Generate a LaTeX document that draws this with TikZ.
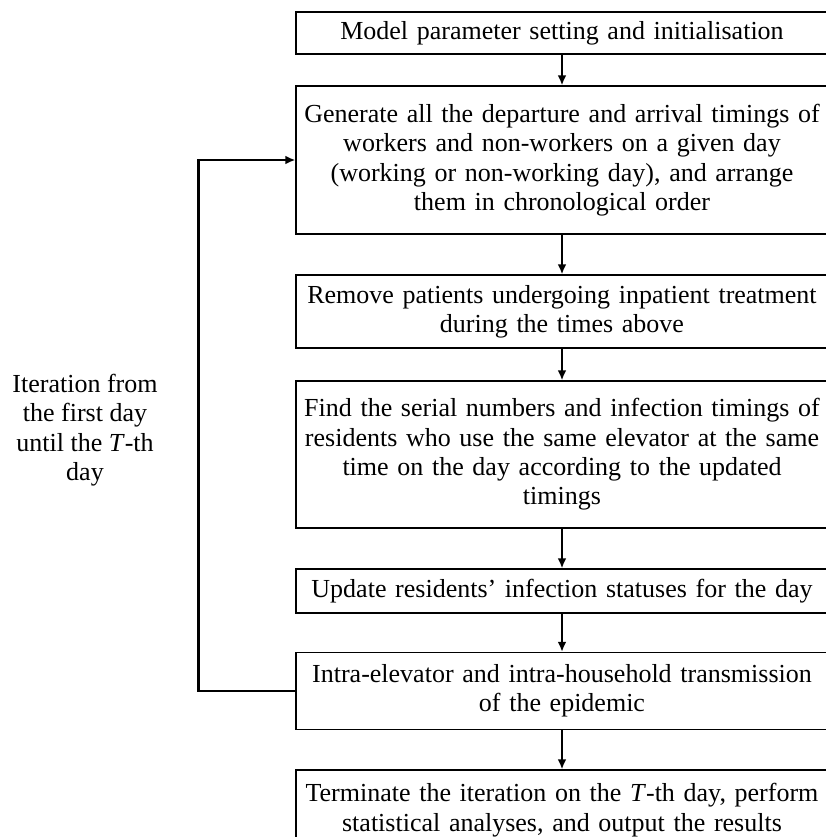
\documentclass[tikz,border=0pt]{standalone}
\usepackage{fontspec}
\setmainfont{Liberation Serif}
\usetikzlibrary{arrows.meta, positioning}

\tikzset{
  stage/.style={draw, line width=0.6pt, rectangle, minimum width=266pt, text width=262pt, inner xsep=2pt, align=center, font=\fontsize{13}{14.7}\selectfont},
  flow/.style={line width=1pt, -{Latex[length=5pt,width=4.4pt]}},
  back/.style={line width=1.3pt, -{Latex[length=5pt,width=4.4pt]}}
}

\begin{document}
\begin{tikzpicture}[x=0.5pt, y=-0.5pt, line cap=round]
  \useasboundingbox (0,0) rectangle (826,837);

  \node[stage, minimum height=21pt] (param) at (562,33) {Model parameter setting and initialisation};
  \node[stage, minimum height=74pt] (timings) at (562,160) {Generate all the departure and arrival timings of\\ workers and non-workers on a given day\\ (working or non-working day), and arrange\\ them in chronological order};
  \node[stage, minimum height=36.5pt] (remove) at (562,311.5) {Remove patients undergoing inpatient treatment\\ during the times above};
  \node[stage, minimum height=73.5pt] (find) at (562,454.5) {Find the serial numbers and infection timings of\\ residents who use the same elevator at the same\\ time on the day according to the updated\\ timings};
  \node[stage, minimum height=22pt] (update) at (562,591) {Update residents' infection statuses for the day};
  \node[stage, minimum height=38.5pt] (spread) at (562,691) {Intra-elevator and intra-household transmission\\ of the epidemic};
  \node[stage, minimum height=40pt] (finish) at (562,810) {Terminate the iteration on the \textit{T}-th day, perform\\ statistical analyses, and output the results};

  \node[align=center, font=\fontsize{13}{14.7}\selectfont] (iter) at (85,430) {Iteration from\\ the first day\\ until the \textit{T}-th\\ day};

  \draw[flow] (param) -- (timings);
  \draw[flow] (timings) -- (remove);
  \draw[flow] (remove) -- (find);
  \draw[flow] (find) -- (update);
  \draw[flow] (update) -- (spread);
  \draw[flow] (spread) -- (finish);
  \draw[back] (spread.west) -- ++(-97,0) |- (timings.west);
\end{tikzpicture}
\end{document}
